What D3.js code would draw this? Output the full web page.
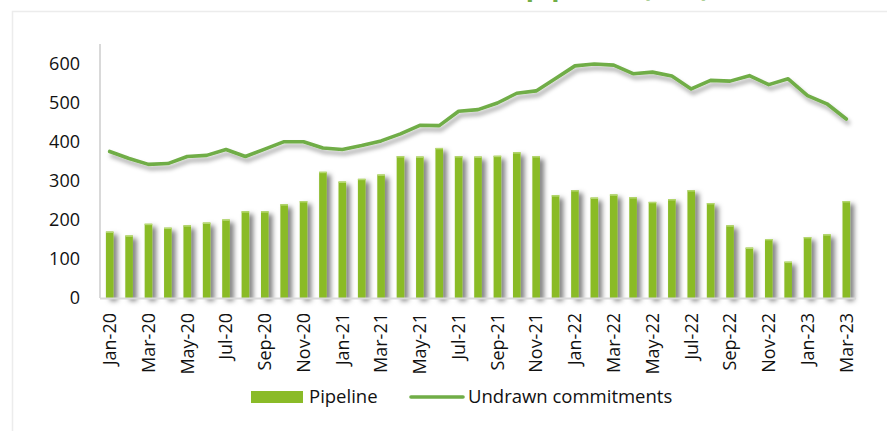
<!DOCTYPE html>
<html>
<head>
<meta charset="utf-8">
<script src="https://cdn.jsdelivr.net/npm/d3@7"></script>
<style>
	body { margin: 0; background: #fff; }
	svg { display: block; font-family: "Open Sans", sans-serif; }
	.tickLabel { font-size: 18px; fill: #111; }
	.legendText { font-size: 18.5px; fill: #111; }
	.title { font-size: 27px; font-weight: bold; fill: #70ad47; }
</style>
</head>
<body>
<svg id="chart" width="887" height="431"></svg>
<script>
// monthly figures
var months = ['Jan-20','Feb-20','Mar-20','Apr-20','May-20','Jun-20','Jul-20','Aug-20','Sep-20','Oct-20','Nov-20','Dec-20',
	'Jan-21','Feb-21','Mar-21','Apr-21','May-21','Jun-21','Jul-21','Aug-21','Sep-21','Oct-21','Nov-21','Dec-21',
	'Jan-22','Feb-22','Mar-22','Apr-22','May-22','Jun-22','Jul-22','Aug-22','Sep-22','Oct-22','Nov-22','Dec-22',
	'Jan-23','Feb-23','Mar-23'];

var pipeline = [170,160,190,180,186,193,201,222,222,240,248,323,
	298,305,316,363,362,384,363,362,364,373,363,263,
	276,257,265,258,246,253,276,243,186,129,151,93,
	156,163,248];

var undrawn = [375,357,342,344,362,365,380,362,381,400,400,384,
	380,390,402,420,442,441,478,482,499,524,530,562,
	594,599,596,574,578,568,535,557,555,569,546,561,
	518,497,458];

var yTicks = [0,100,200,300,400,500,600];
var seriesNames = ['Pipeline','Undrawn commitments'];

var barColor = '#8abb28';
var lineColor = '#70ad47';

var svg = d3.select('#chart');

// soft shadows like the original
var defs = svg.append('defs');
var barShadow = defs.append('filter').attr('id','barShadow')
	.attr('x','-50%').attr('y','-10%').attr('width','300%').attr('height','130%');
barShadow.append('feDropShadow')
	.attr('dx', 4).attr('dy', 3).attr('stdDeviation', 2.8)
	.attr('flood-color', '#000').attr('flood-opacity', 0.5);

var lineShadow = defs.append('filter').attr('id','lineShadow')
	.attr('x','-5%').attr('y','-20%').attr('width','110%').attr('height','160%');
lineShadow.append('feDropShadow')
	.attr('dx', 2).attr('dy', 4).attr('stdDeviation', 2.2)
	.attr('flood-color', '#000').attr('flood-opacity', 0.35);

// frame
svg.append('rect')
	.attr('x', 12.5).attr('y', 11.5)
	.attr('width', 900).attr('height', 440)
	.attr('fill', 'none')
	.attr('stroke', '#ececec')
	.attr('stroke-width', 1.5);

// title (mostly cut off above the picture)
svg.append('text')
	.attr('class', 'title')
	.attr('x', 425)
	.attr('y', -4.2)
	.attr('text-anchor', 'middle')
	.text('Undrawn commitments and pipeline (£bn)');

var x = d3.scalePoint()
	.domain(months)
	.range([100, 856])
	.padding(0.5);

var y = d3.scaleLinear()
	.domain([0, 650])
	.range([298, 44]);

var barW = 7.6;

// axes lines
svg.append('line')
	.attr('x1', 100).attr('x2', 100)
	.attr('y1', y(650)).attr('y2', y(0))
	.attr('stroke', '#d9d9d9').attr('stroke-width', 2);

// bars
svg.append('g')
	.attr('filter', 'url(#barShadow)')
	.selectAll('rect')
	.data(pipeline)
	.enter()
	.append('rect')
	.attr('x', (d, i) => x(months[i]) - barW / 2)
	.attr('y', d => y(d))
	.attr('width', barW)
	.attr('height', d => y(0) - y(d))
	.attr('fill', barColor);

// light top edge on each bar
svg.append('g')
	.selectAll('line')
	.data(pipeline)
	.enter()
	.append('line')
	.attr('x1', (d, i) => x(months[i]) - barW / 2)
	.attr('x2', (d, i) => x(months[i]) + barW / 2)
	.attr('y1', d => y(d) + 0.7)
	.attr('y2', d => y(d) + 0.7)
	.attr('stroke', '#b6d872')
	.attr('stroke-width', 1.4);

svg.append('line')
	.attr('x1', 100).attr('x2', 856)
	.attr('y1', y(0) + 0.5).attr('y2', y(0) + 0.5)
	.attr('stroke', '#d9d9d9').attr('stroke-width', 2);

// undrawn commitments line
var lineGen = d3.line()
	.x((d, i) => x(months[i]))
	.y(d => y(d));

svg.append('path')
	.datum(undrawn)
	.attr('d', lineGen)
	.attr('fill', 'none')
	.attr('stroke', lineColor)
	.attr('stroke-width', 3.6)
	.attr('stroke-linejoin', 'round')
	.attr('stroke-linecap', 'round')
	.attr('filter', 'url(#lineShadow)');

// y tick labels
svg.selectAll('text.yLabel')
	.data(yTicks)
	.enter()
	.append('text')
	.attr('class', 'tickLabel yLabel')
	.attr('x', 80)
	.attr('y', d => y(d))
	.attr('dy', '0.36em')
	.attr('text-anchor', 'end')
	.text(d => d);

// x tick labels, every second month
svg.selectAll('text.xLabel')
	.data(months.filter((d, i) => i % 2 == 0))
	.enter()
	.append('text')
	.attr('class', 'tickLabel xLabel')
	.attr('transform', d => `translate(${x(d)},313) rotate(-90)`)
	.attr('dy', '0.35em')
	.attr('text-anchor', 'end')
	.text(d => d);

// legend
var legend = svg.append('g');

legend.append('rect')
	.attr('x', 251).attr('y', 391)
	.attr('width', 52).attr('height', 12)
	.attr('fill', barColor);

legend.append('text')
	.attr('class', 'legendText')
	.attr('x', 309).attr('y', 397)
	.attr('dy', '0.35em')
	.text(seriesNames[0]);

legend.append('line')
	.attr('x1', 411).attr('x2', 463)
	.attr('y1', 397).attr('y2', 397)
	.attr('stroke', lineColor)
	.attr('stroke-width', 3.6)
	.attr('stroke-linecap', 'round');

legend.append('text')
	.attr('class', 'legendText')
	.attr('x', 468).attr('y', 397)
	.attr('dy', '0.35em')
	.text(seriesNames[1]);
</script>
</body>
</html>
